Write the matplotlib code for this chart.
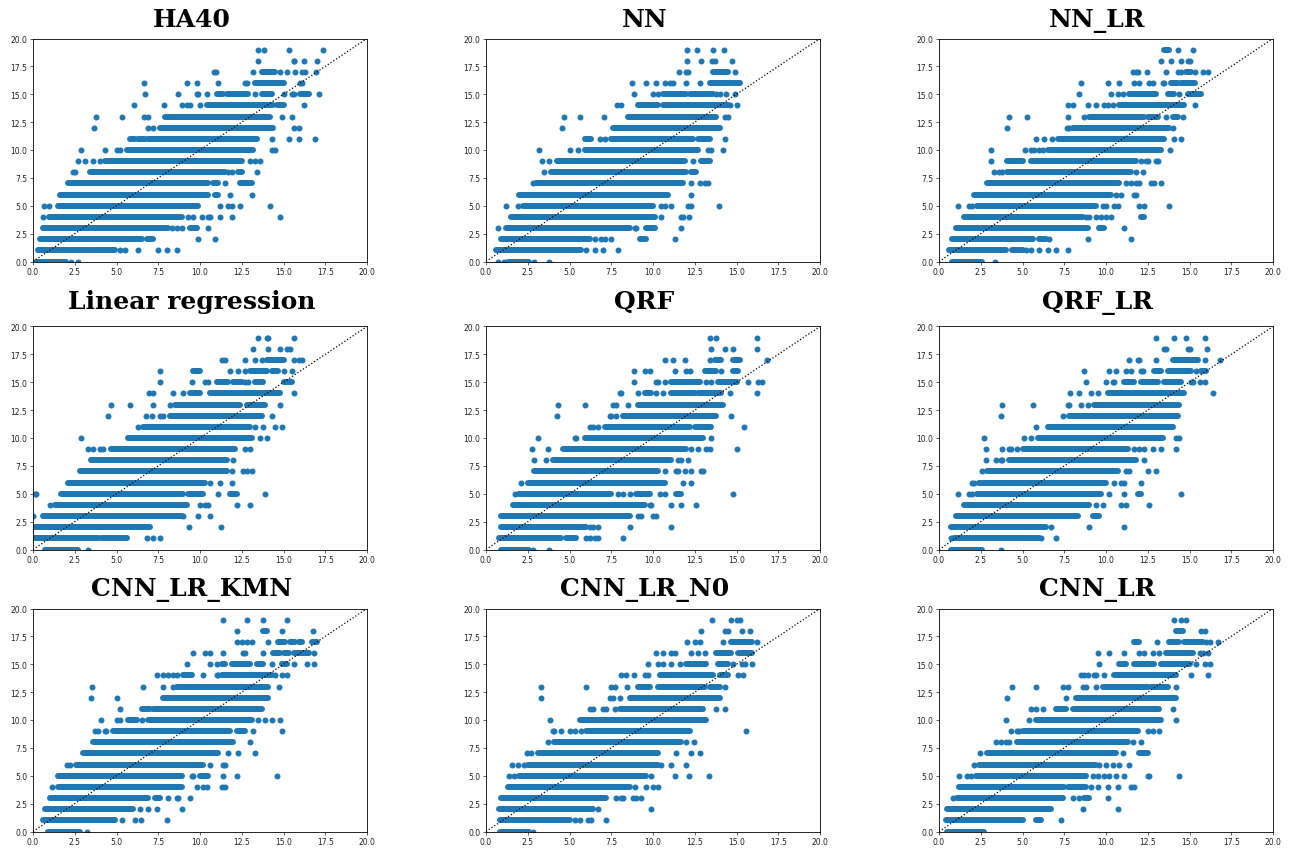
import matplotlib
matplotlib.use("Agg")
import matplotlib.pyplot as plt

# Values. One list per panel, index = y level (0..19).
# A tuple is a solid run of overlapping points (from, to), a float is a single point.
ha40 = [
    [(0.2, 2.0), 2.3, 2.7],
    [(0.3, 3.6), (3.7, 4.9), 5.2, 5.5, 6.3, 7.5, 8.0, 8.65],
    [(0.4, 6.5), (6.8, 7.2), 9.9, 10.9],
    [(0.6, 8.1), 8.3, 8.6, 8.9, (9.4, 9.8), 10.5],
    [0.6, (0.95, 8.9), 9.3, 9.6, 10.1, 10.5, 10.6, 11.2, 11.9, 14.8],
    [0.65, 0.95, (1.5, 9.9), 11.2, 11.7, 11.9, 12.4, 14.2],
    [(1.6, 10.5), (10.9, 11.1), 11.8, 13.1],
    [(2.1, 10.5), (10.8, 11.1), 11.5, (12.4, 13.1)],
    [2.4, 2.5, (3.4, 11.5), 11.7, 11.9, (12.3, 12.5), 13.4],
    [2.7, 3.1, 3.6, 4.0, (4.3, 12.5), 13.0, 13.3, 13.6],
    [2.85, 4.3, 5.0, 5.2, (5.6, 13.2), 14.3, 14.5],
    [(5.8, 6.1), (6.3, 6.7), (6.9, 13.4), 14.3, 15.3, 15.9, 16.9],
    [3.65, 6.9, 7.2, (7.6, 14.4), 15.6, 15.9],
    [3.8, 5.3, 6.65, 6.9, (7.9, 14.2), 14.9, 15.5],
    [6.05, 7.85, 8.9, 9.2, 9.4, 10.0, (10.4, 14.4), (14.6, 15.0), 16.2],
    [6.7, 8.7, 9.8, 9.9, 10.4, (11.0, 11.4), (11.6, 12.9), 13.3, (13.7, 14.3), 15.0, 15.5, 15.6, (16.0, 16.5), 17.1],
    [6.65, 9.2, 9.85, 11.1, 12.7, 12.8, (13.3, 15.0), 16.0, 16.1],
    [10.85, 10.95, 13.2, (13.7, 14.5), 14.8, 15.2, 15.7, 16.1, 16.3, 16.95],
    [13.5, 15.6, 15.65, 16.2, 17.0],
    [13.5, 13.85, 15.3, 17.35],
]
nn = [
    [0.7, 1.1, (1.3, 2.6), 2.9, 3.75],
    [(0.6, 5.7), 6.0, 6.5, 7.0, 7.9],
    [(0.9, 6.2), 6.5, 6.9, 7.1, 7.5, (9.2, 9.6), 11.3],
    [0.7, (1.2, 8.6), 8.9, 9.0, (9.6, 10.1), 11.7],
    [(1.5, 10.1), 10.5, 11.7, 11.8, 12.15],
    [1.2, 1.9, (2.2, 10.0), 10.5, 10.7, 11.1, 12.1, 12.3, 13.95],
    [(2.0, 10.9), 12.3],
    [2.8, (3.0, 11.8), 12.3, 12.8, 13.1, 13.3],
    [3.5, (3.9, 12.0), (12.3, 12.6)],
    [3.35, 3.8, (4.25, 11.9), 12.4, (12.9, 13.4)],
    [3.2, 5.05, 5.5, (5.9, 12.7), 13.3, 13.5, 14.2],
    [(5.9, 6.3), 6.8, 7.1, (7.5, 12.4), (12.7, 13.4), 14.3],
    [4.55, (7.6, 14.0)],
    [4.65, 5.6, 7.05, (8.5, 13.8), 14.3, 14.5],
    [7.85, 8.1, (9.1, 10.3), (10.6, 14.5), 14.6, 15.0],
    [8.85, 10.0, 10.3, (10.6, 12.0), (12.2, 13.6), 13.8, 14.0, 14.4, 14.9],
    [8.75, 9.6, 10.2, 10.7, 11.0, 11.2, 12.0, 12.8, (13.4, 14.9), (15.0, 15.2)],
    [11.55, 12.0, 12.1, (13.6, 14.5), 14.9],
    [12.05, 12.85, 13.55, 13.7, 14.75],
    [12.05, 12.65, 13.6, 14.25],
]
nn_lr = [
    [(0.8, 2.6), 3.35],
    [(0.6, 4.0), (4.4, 5.0), 5.2, 5.5, 6.0, 6.5, 7.0, 7.7],
    [(0.8, 5.6), (6.0, 6.4), 6.6, 8.9, 11.5],
    [(1.0, 8.9), (9.6, 9.9), 11.1],
    [(1.5, 8.6), 8.8, 9.0, 9.4, 9.7, 10.0, 10.3, (12.1, 12.3)],
    [1.15, 1.8, 2.0, (2.3, 9.4), 9.8, 10.0, 10.5, 10.7, 12.0, 12.3, 13.8],
    [(2.1, 10.3), 10.6, 10.9, 11.7, 11.8],
    [(2.9, 10.8), 11.2, 11.5, 11.8, 12.0, 12.7, 12.9, 13.3],
    [3.3, 3.6, 3.8, (4.1, 11.5), 11.8, 12.2],
    [3.1, (4.1, 5.0), (5.5, 11.8), 12.1, 12.4, 12.5, 13.0, 13.1],
    [3.1, 5.15, 5.5, 5.7, 6.0, 6.2, (6.5, 13.3), 13.85],
    [5.8, 6.3, 6.75, (7.1, 13.5), 14.1, 14.5],
    [4.1, 7.65, 7.8, (8.0, 13.8), 14.0],
    [4.2, 5.25, 7.75, 8.7, (9.0, 12.3), (12.5, 13.1), 13.6, (14.0, 14.3), 14.6],
    [7.7, 8.0, 8.9, 9.4, 9.9, 10.1, 10.4, (10.8, 14.7), 15.3],
    [8.4, 10.3, 10.7, 11.0, (11.4, 13.0), (13.7, 14.1), 14.4, (14.9, 15.7)],
    [8.5, 10.1, 10.8, 11.7, 12.0, 12.6, 12.8, 13.4, 13.5, (13.9, 14.3), (14.5, 15.3)],
    [11.6, 11.8, 11.9, 12.45, 13.6, 14.3, 14.5, (14.8, 15.1), 15.3, 15.8, 16.1],
    [13.3, 13.9, 14.5, 14.9, 15.0],
    [(13.5, 13.8), 14.3, 15.2],
]
linreg = [
    [(0.7, 2.7), 3.3],
    [(0.0, 3.9), (4.1, 5.6), 6.8, 7.2, 7.6],
    [(0.0, 7.0), 9.35, 11.25],
    [0.0, (0.6, 8.9), 9.0, 9.9, 10.6],
    [1.0, (1.3, 9.2), 10.0, 10.3, 10.5, 12.2, 13.0],
    [0.1, 0.2, (1.7, 9.0), (9.3, 10.2), 11.1, (11.8, 12.2), 13.9],
    [(2.1, 10.3), 10.6, 11.2, 11.9],
    [(2.8, 11.6), 11.9, 12.6, 12.8, 13.1],
    [(3.5, 11.6), 12.0],
    [3.3, 3.6, 4.0, 4.2, (4.7, 12.1), 12.7, 13.0],
    [2.9, (5.7, 13.1), 13.6, 14.0],
    [6.3, (6.6, 13.0), 13.3, 13.8, 14.5, 14.9],
    [4.5, 6.75, 7.1, 7.6, 7.8, (8.2, 13.7), 14.3],
    [4.7, 5.8, 7.2, 8.2, (8.5, 12.4), (12.8, 13.9), 14.8],
    [6.95, 7.2, 8.4, 9.0, (9.4, 10.0), (10.6, 14.8), 15.6],
    [7.6, 9.5, 10.3, 10.5, (11.0, 11.7), (12.0, 12.5), 12.7, 12.9, (13.3, 13.8), (15.0, 15.5)],
    [7.6, (9.6, 10.0), 11.8, 12.3, 12.7, (13.0, 14.0), (14.3, 14.7), 15.0, 15.5],
    [11.3, 11.5, 12.7, 13.3, 13.7, (14.0, 15.0), 15.6, 15.9, 16.1],
    [13.2, 14.1, 14.8, 15.2, 15.4],
    [13.5, 14.0, 14.1, 15.6],
]
qrf = [
    [(0.9, 2.6), 2.8, 3.75],
    [(0.8, 4.5), (4.8, 5.4), 6.0, 6.2, 6.5, 6.7, 8.2],
    [(0.9, 6.0), 6.2, 6.4, 6.7, 8.6, 11.1],
    [(0.9, 8.6), 9.1, 9.3, 10.0, 10.2],
    [(1.6, 9.5), 9.8, 9.9, 11.1, 11.7, 12.6],
    [1.75, (2.0, 7.5), 7.9, 8.2, 8.6, (9.0, 9.8), 10.4, 10.7, (11.4, 11.7), 14.8],
    [2.1, (2.5, 10.7), 11.8, 12.3],
    [(2.9, 10.3), 10.7, 11.4, 11.5, 11.9, 12.3, 12.9, 13.0],
    [2.9, 3.6, (4.0, 11.1), 11.5, 11.7, 12.1],
    [2.75, 3.7, (4.6, 12.0), 12.3, 12.7, 13.2, 13.4, 15.05],
    [3.1, 5.3, 5.4, (5.9, 13.0), 13.5],
    [6.2, 6.4, 6.7, (7.1, 12.2), (12.5, 13.5), 15.45],
    [4.25, 7.4, 7.5, 7.8, (8.2, 13.8), 14.7],
    [4.3, 5.95, 7.6, 7.8, 8.5, (9.1, 14.2)],
    [8.0, 8.1, 9.1, (9.5, 9.9), 10.2, 10.6, (11.1, 12.5), (12.7, 14.1), 14.6, 16.2],
    [8.85, 10.2, 10.3, 10.7, (11.1, 12.8), 13.2, 13.5, (13.9, 15.0), 15.7, 16.3, 16.5],
    [8.85, 9.5, 9.8, 11.3, 12.0, 12.2, (13.1, 13.8), 14.1, (14.8, 15.1)],
    [10.7, 11.2, 11.9, 13.4, (13.7, 14.1), (14.8, 15.2), 16.85],
    [13.5, 14.3, 14.8, 16.25],
    [13.4, 13.75, 16.2],
]
qrf_lr = [
    [(0.7, 2.6), 3.7],
    [0.7, (0.9, 6.0), 6.1, 7.0],
    [(0.7, 6.4), 6.7, 9.0, 11.1],
    [(1.0, 8.3), (9.2, 9.6)],
    [(1.5, 9.0), 9.4, 9.8, 10.9, 11.2, 12.6],
    [1.15, 1.8, 2.0, (2.3, 9.7), 10.2, 11.1, (11.9, 12.1), 14.5],
    [1.95, 2.1, (2.4, 10.0), 10.5, 10.9, 11.1, 12.1],
    [2.6, (2.9, 10.7), 11.2, 11.4, 12.5, 13.0],
    [2.8, 3.4, 3.7, 3.8, (4.2, 11.8), 12.3],
    [2.8, 3.8, 4.2, 4.3, 4.7, (5.0, 11.3), 11.7, 12.0, 12.3, 12.8, 13.3, 14.2],
    [2.7, 5.1, 5.5, (5.9, 13.4), 14.2, 14.4],
    [5.8, (6.5, 14.0)],
    [3.7, 7.4, (7.8, 14.3)],
    [3.8, 5.6, 7.7, 7.8, 8.5, 8.9, (9.3, 14.4)],
    [7.85, 8.4, 9.1, 9.5, (10.1, 14.7), 16.4],
    [8.8, 10.0, 10.4, 10.5, (11.1, 11.7), (12.1, 13.1), (13.5, 14.5), 15.1, 15.2, 15.6, 15.9],
    [8.7, 10.2, 10.6, 11.2, 11.5, 12.1, 12.2, (12.9, 13.3), (13.7, 15.1), 15.4, (15.7, 16.0)],
    [11.4, 11.9, 12.0, 13.0, (14.0, 15.5), 15.9, 16.8],
    [13.5, 13.6, 14.9, 15.0, 16.05],
    [13.0, 14.1, 14.8, 15.9],
]
cnn_lr_kmn = [
    [(0.9, 2.8), 3.25],
    [(0.6, 4.9), 5.3, 6.1, 6.45, 8.05],
    [(0.7, 6.0), 6.4, 6.9, 7.4, 8.9],
    [(1.0, 6.3), (6.4, 6.9), (7.3, 7.6), 8.1, 8.6, 8.7, 9.4],
    [1.15, (1.5, 8.9), 9.8, 10.2, 10.4, 11.3, 11.5],
    [(1.5, 8.9), 9.5, 9.6, (10.0, 10.5), 11.4, 12.2, 14.6],
    [2.05, 2.2, (2.6, 10.2), 10.6, 11.4, 11.5],
    [(3.0, 11.1), 11.7, 12.3, 13.3],
    [(3.6, 12.0), 13.0],
    [3.7, 3.9, 4.3, 4.4, (4.8, 11.8), (12.2, 12.7), 13.2, 14.9],
    [4.1, 5.0, 5.2, (5.7, 6.2), 6.5, (6.9, 13.1), 13.5, 13.9, 14.3, 14.8],
    [5.2, (6.5, 7.0), (7.2, 13.7)],
    [3.5, 5.0, (7.8, 14.1)],
    [3.55, 6.6, 7.8, 8.4, (8.6, 14.1), 14.75],
    [7.4, 7.8, 8.1, 8.4, 8.6, (9.0, 9.5), 10.2, 11.0, 11.1, (11.3, 14.3), 14.5, 14.9, 15.2],
    [9.2, 10.6, 11.0, (11.3, 11.5), (11.9, 13.0), (13.4, 13.8), 14.3, (14.9, 15.2), 15.6, 16.4, 16.8],
    [9.6, 10.3, 10.6, 11.4, 12.6, 12.7, 13.8, (14.4, 14.8), (15.0, 15.3), (15.6, 16.5), 16.8],
    [12.2, 12.5, 12.8, 13.1, 14.1, (14.7, 15.1), (15.4, 15.7), (15.9, 16.1), (16.7, 17.0)],
    [12.2, (13.75, 14.0), 14.9, 16.75],
    [11.4, 12.8, 13.8, 15.2],
]
cnn_lr_n0 = [
    [(0.85, 2.6), 2.8],
    [(0.85, 5.0), 5.3, 5.6, 6.1, 6.3, 7.2],
    [(0.75, 6.4), 6.7, 9.9],
    [(0.9, 7.2), 7.8, 8.1, 8.2, 8.8, 9.0, 9.3],
    [(1.3, 8.6), 8.9, 9.6, 10.0, 10.3],
    [1.35, 1.7, (2.0, 9.6), 9.9, 11.3, 12.15, 13.35],
    [1.55, 1.9, 2.3, (2.5, 10.3), 10.5, 11.1, 12.0],
    [2.45, 2.7, (3.1, 10.3), 11.4, 12.3, 12.8],
    [3.7, (4.1, 11.7), 12.0, 12.45],
    [4.0, 4.1, 4.5, 5.0, 5.3, 5.7, (6.0, 12.2), 15.55],
    [3.85, (5.6, 13.2)],
    [6.2, 6.4, 7.0, 7.2, 7.7, (8.0, 13.0), 13.8, 14.3],
    [3.3, 7.4, 7.6, 8.0, (8.6, 14.0)],
    [3.3, 6.0, 7.5, 7.75, 8.45, (9.1, 9.8), (10.3, 13.1), (13.4, 14.0), 14.3],
    [8.1, 8.4, 8.85, 9.5, 9.7, (10.4, 13.6), (14.0, 14.5), 15.1, 15.4],
    [9.7, 10.3, 10.6, 11.1, 11.6, (12.0, 13.2), (13.9, 14.5), 14.8, 15.3, 15.5, 15.9],
    [10.2, 10.6, 11.1, 11.3, 12.3, 12.7, 13.1, (13.8, 14.7), (15.1, 15.9)],
    [12.05, 12.5, 12.8, 14.2, (14.7, 15.9), 16.2],
    [12.9, 14.3, 14.5, 15.3, 15.8],
    [13.55, 14.7, 15.0, 15.2],
]
cnn_lr = [
    [(0.5, 2.7)],
    [(0.4, 5.0), (5.8, 6.1), 7.3],
    [(0.5, 6.7), 8.6, 10.7],
    [0.85, (1.1, 7.4), 8.0, 8.4, (8.7, 9.0), 10.1],
    [(1.2, 7.5), (7.7, 8.8), 9.1, 9.5, 10.1, 10.7, 11.5, 11.7],
    [1.2, 1.7, 1.9, (2.2, 8.8), 9.2, 9.5, 9.9, 10.2, 10.6, 11.1, 12.5, 12.6, 14.4],
    [2.1, (2.4, 9.4), 9.6, 10.0, 10.4, 10.8, 11.4],
    [2.45, (2.9, 10.6), 11.0, (12.0, 12.5)],
    [3.4, 3.7, 4.0, 4.2, (4.7, 11.3), 11.6, 12.1],
    [4.3, 4.7, 4.8, (5.0, 11.9), 12.5, 12.8, 13.2],
    [4.0, 5.4, (5.8, 13.3), 14.2],
    [5.5, 5.8, 6.2, (7.0, 7.6), (8.0, 13.2), 14.0],
    [4.1, 7.6, (8.2, 14.2)],
    [4.4, 5.8, 7.4, 7.7, 8.6, 8.8, 9.4, (9.8, 12.5), (12.7, 13.7), 14.2],
    [8.5, 8.7, 8.9, 9.3, 9.4, 9.9, (10.5, 14.2), 15.1, 16.1],
    [9.6, (10.8, 11.2), (11.7, 12.9), (13.3, 15.0), 15.4, 15.9, 16.2],
    [9.5, 10.2, 11.1, 12.0, 12.3, 12.8, 13.2, (13.6, 15.2), 15.6, 15.8, 16.1],
    [(11.7, 12.0), 13.05, (13.8, 14.4), (14.7, 15.8), 16.0, 16.2, 16.7],
    [(14.2, 14.6), 15.7, 15.9],
    [14.05, 14.5, 14.8],
]

panels = [ha40, nn, nn_lr, linreg, qrf, qrf_lr, cnn_lr_kmn, cnn_lr_n0, cnn_lr]
titles = ["HA40", "NN", "NN_LR", "Linear regression", "QRF", "QRF_LR",
          "CNN_LR_KMN", "CNN_LR_N0", "CNN_LR"]
ticks = [0.0, 2.5, 5.0, 7.5, 10.0, 12.5, 15.0, 17.5, 20.0]

W, H, DPI = 1293, 853, 100
col_left = [33, 486, 939]
row_top = [39.5, 327.5, 609.5]
title_pad = [12.5, 18, 13.5]
ax_w, ax_h = 334, 223
px = 72 / DPI
blue = "#1f77b4"

fig = plt.figure(figsize=(W / DPI, H / DPI), dpi=DPI)

for i, rows in enumerate(panels):
    r, c = divmod(i, 3)
    ax = fig.add_axes([col_left[c] / W, 1 - (row_top[r] + ax_h) / H, ax_w / W, ax_h / H])

    for y, row in enumerate(rows):
        singles = [v for v in row if not isinstance(v, tuple)]
        runs = [v for v in row if isinstance(v, tuple)]
        ax.scatter(singles, [y] * len(singles), s=(6 * px) ** 2, color=blue, linewidths=0)
        if runs:
            ax.hlines([y] * len(runs), [a for a, b in runs], [b for a, b in runs],
                      color=blue, linewidth=6 * px, capstyle="round")

    ax.plot([0, 20], [0, 20], color="black", linestyle=":", linewidth=0.9)
    ax.set_xlim(0, 20)
    ax.set_ylim(0, 20)
    ax.set_xticks(ticks)
    ax.set_yticks(ticks)
    ax.tick_params(labelsize=5.5, length=2, width=0.5, pad=2, colors="#222222")
    for s in ax.spines.values():
        s.set_linewidth(0.6)
    # titles sit a little left of the axes centre in the original
    ax.set_title(titles[i], family="DejaVu Serif", weight="bold", fontsize=18,
                 x=0.474, pad=title_pad[r] * px)

fig.savefig("out.png", dpi=DPI)
